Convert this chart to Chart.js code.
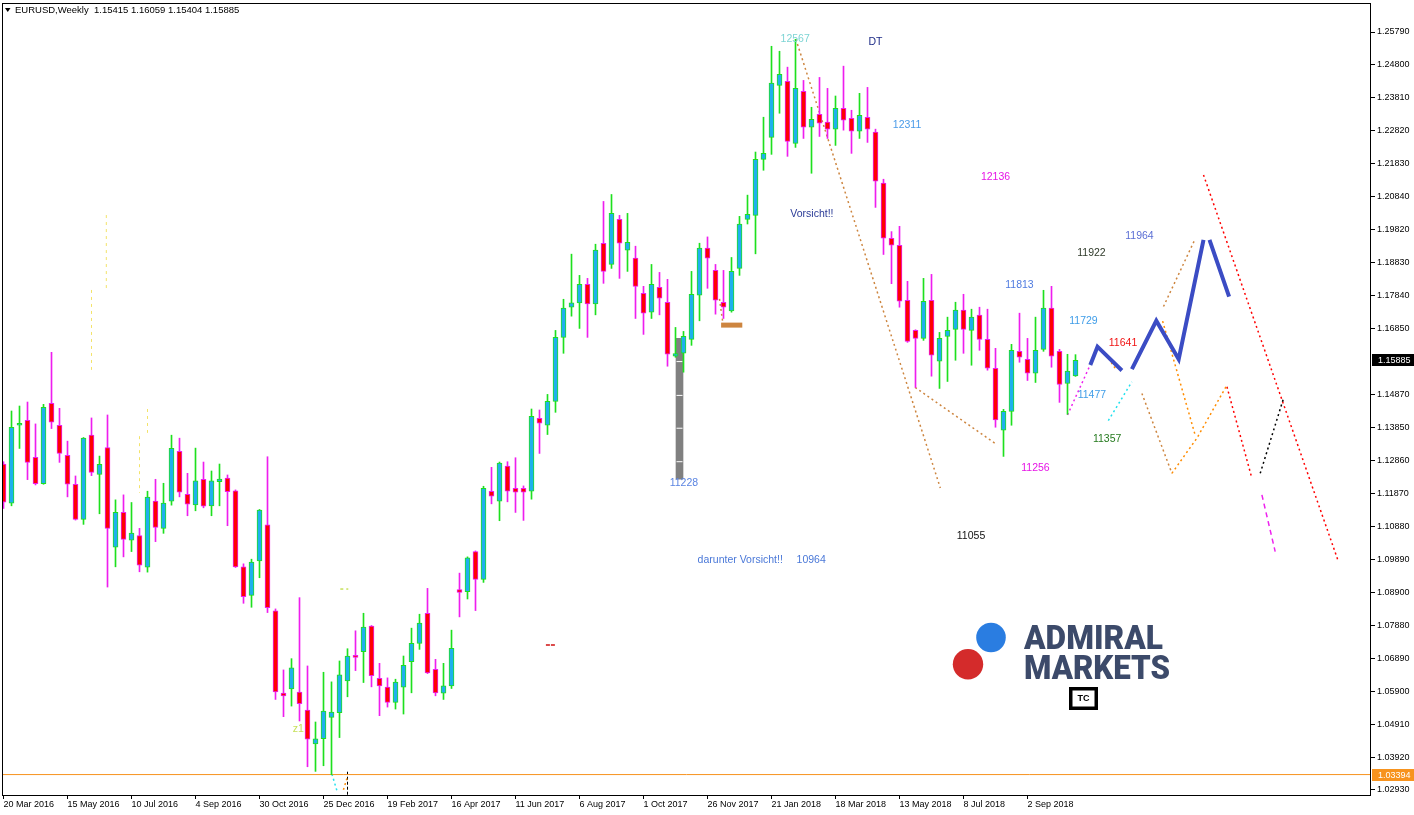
<!DOCTYPE html>
<html>
<head>
<meta charset="utf-8">
<title>EURUSD, Weekly</title>
<script src="https://cdn.jsdelivr.net/npm/chart.js@4.4.1/dist/chart.umd.min.js"></script>
<style>
  html, body { margin: 0; padding: 0; background: #fff; }
  #wrap { position: relative; width: 1414px; height: 815px; }
</style>
</head>
<body>
<div id="wrap"><canvas id="chart" width="1414" height="815"></canvas></div>
<script>
// ===== DATA (weekly candles, week 0 = 20 Mar 2016) =====
const opens = [
  1.1276, 1.1158, 1.1393, 1.1408, 1.1296, 1.1217, 1.1459, 1.1393, 1.1302, 1.1215,
  1.1109, 1.1363, 1.1245, 1.1326, 1.1025, 1.1130, 1.1046, 1.1060, 1.0965, 1.1164,
  1.1082, 1.1164, 1.1314, 1.1185, 1.1153, 1.1230, 1.1150, 1.1223, 1.1234, 1.1195,
  1.0966, 1.0880, 1.0984, 1.1093, 1.0833, 1.0585, 1.0598, 1.0588, 1.0534, 1.0432,
  1.0448, 1.0512, 1.0526, 1.0622, 1.0697, 1.0710, 1.0787, 1.0630, 1.0603, 1.0557,
  1.0603, 1.0680, 1.0735, 1.0826, 1.0657, 1.0585, 1.0607, 1.0897, 1.0891, 1.1012,
  1.0928, 1.1194, 1.1164, 1.1270, 1.1203, 1.1203, 1.1194, 1.1414, 1.1393, 1.1465,
  1.1658, 1.1749, 1.1762, 1.1818, 1.1759, 1.1942, 1.1878, 1.2014, 1.1921, 1.1897,
  1.1791, 1.1734, 1.1809, 1.1764, 1.1601, 1.1610, 1.1652, 1.1785, 1.1927, 1.1860,
  1.1764, 1.1738, 1.1866, 1.2014, 1.2026, 1.2195, 1.2261, 1.2418, 1.2430, 1.2243,
  1.2400, 1.2292, 1.2331, 1.2307, 1.2286, 1.2349, 1.2319, 1.2280, 1.2322, 1.2277,
  1.2123, 1.1957, 1.1936, 1.1770, 1.1679, 1.1655, 1.1770, 1.1586, 1.1661, 1.1682,
  1.1740, 1.1679, 1.1725, 1.1652, 1.1565, 1.1378, 1.1435, 1.1616, 1.1592, 1.1550,
  1.1622, 1.1746, 1.1616, 1.1519, 1.15415
];
const highs = [
  1.1283, 1.1436, 1.1451, 1.1463, 1.1397, 1.1456, 1.1613, 1.1444, 1.1345, 1.1240,
  1.1356, 1.1415, 1.1300, 1.1424, 1.1168, 1.1183, 1.1160, 1.1082, 1.1194, 1.1230,
  1.1218, 1.1363, 1.1354, 1.1248, 1.1324, 1.1282, 1.1255, 1.1276, 1.1243, 1.1198,
  1.0975, 1.0989, 1.1139, 1.1298, 1.0839, 1.0655, 1.0689, 1.0873, 1.0667, 1.0498,
  1.0648, 1.0619, 1.0682, 1.0719, 1.0773, 1.0826, 1.0789, 1.0675, 1.0631, 1.0627,
  1.0697, 1.0781, 1.0823, 1.0901, 1.0687, 1.0675, 1.0775, 1.0947, 1.0996, 1.1014,
  1.1209, 1.1266, 1.1282, 1.1283, 1.1295, 1.1210, 1.1442, 1.1439, 1.1486, 1.1679,
  1.1773, 1.1909, 1.1845, 1.1836, 1.1939, 1.2068, 1.2089, 1.2026, 1.2032, 1.1933,
  1.1812, 1.1878, 1.1854, 1.1833, 1.1688, 1.1676, 1.1857, 1.1942, 1.1961, 1.1878,
  1.1860, 1.1899, 1.2023, 1.2087, 1.2217, 1.2322, 1.2536, 1.2521, 1.2473, 1.2557,
  1.2433, 1.2352, 1.2442, 1.2409, 1.2386, 1.2476, 1.2343, 1.2394, 1.2412, 1.2286,
  1.2135, 1.1977, 1.1993, 1.1827, 1.1681, 1.1836, 1.1848, 1.1673, 1.1719, 1.1764,
  1.1788, 1.1743, 1.1749, 1.1743, 1.1625, 1.1441, 1.1637, 1.1731, 1.1655, 1.1719,
  1.1800, 1.1812, 1.1622, 1.1607, 1.16059
];
const lows = [
  1.1142, 1.1150, 1.1323, 1.1229, 1.1213, 1.1215, 1.1383, 1.1281, 1.1177, 1.1107,
  1.1094, 1.1241, 1.1126, 1.0905, 1.0966, 1.0996, 1.1012, 1.0951, 1.0950, 1.1042,
  1.1067, 1.1152, 1.1177, 1.1120, 1.1135, 1.1144, 1.1120, 1.1150, 1.1090, 1.0964,
  1.0856, 1.0844, 1.0933, 1.0828, 1.0566, 1.0514, 1.0546, 1.0501, 1.0363, 1.0349,
  1.0366, 1.0339, 1.0451, 1.0574, 1.0653, 1.0617, 1.0604, 1.0517, 1.0543, 1.0537,
  1.0522, 1.0586, 1.0717, 1.0644, 1.0577, 1.0566, 1.0599, 1.0815, 1.0869, 1.0834,
  1.0919, 1.1156, 1.1105, 1.1162, 1.1130, 1.1106, 1.1170, 1.1308, 1.1365, 1.1432,
  1.1610, 1.1722, 1.1685, 1.1658, 1.1726, 1.1821, 1.1866, 1.1836, 1.1857, 1.1715,
  1.1667, 1.1715, 1.1726, 1.1571, 1.1598, 1.1553, 1.1634, 1.1708, 1.1806, 1.1728,
  1.1715, 1.1734, 1.1845, 1.2000, 1.1910, 1.2162, 1.2210, 1.2334, 1.2204, 1.2231,
  1.2258, 1.2153, 1.2264, 1.2258, 1.2237, 1.2283, 1.2213, 1.2258, 1.2246, 1.2050,
  1.1908, 1.1820, 1.1749, 1.1643, 1.1507, 1.1649, 1.1541, 1.1504, 1.1525, 1.1589,
  1.1610, 1.1574, 1.1619, 1.1559, 1.1387, 1.1299, 1.1393, 1.1583, 1.1528, 1.1522,
  1.1616, 1.1568, 1.1462, 1.1426, 1.15404
];
const closes = [
  1.1161, 1.1387, 1.1399, 1.1281, 1.1217, 1.1447, 1.1402, 1.1308, 1.1215, 1.1109,
  1.1354, 1.1251, 1.1275, 1.1082, 1.1130, 1.1049, 1.1068, 1.0971, 1.1176, 1.1085,
  1.1158, 1.1323, 1.1191, 1.1155, 1.1225, 1.1149, 1.1225, 1.1231, 1.1193, 1.0966,
  1.0876, 1.0980, 1.1137, 1.0843, 1.0589, 1.0577, 1.0661, 1.0553, 1.0446, 1.0447,
  1.0531, 1.0528, 1.0640, 1.0697, 1.0693, 1.0784, 1.0638, 1.0607, 1.0557, 1.0618,
  1.0669, 1.0735, 1.0796, 1.0646, 1.0586, 1.0607, 1.0720, 1.0889, 1.0993, 1.0928,
  1.1203, 1.1179, 1.1279, 1.1194, 1.1191, 1.1191, 1.1420, 1.1399, 1.1465, 1.1658,
  1.1746, 1.1762, 1.1818, 1.1759, 1.1921, 1.1857, 1.2032, 1.1942, 1.1945, 1.1812,
  1.1731, 1.1818, 1.1776, 1.1607, 1.1609, 1.1661, 1.1788, 1.1927, 1.1897, 1.1770,
  1.1749, 1.1857, 1.2000, 1.2029, 1.2195, 1.2213, 1.2425, 1.2451, 1.2249, 1.2409,
  1.2292, 1.2316, 1.2304, 1.2286, 1.2349, 1.2313, 1.2280, 1.2328, 1.2286, 1.2129,
  1.1957, 1.1936, 1.1767, 1.1646, 1.1655, 1.1767, 1.1604, 1.1655, 1.1679, 1.1740,
  1.1682, 1.1719, 1.1652, 1.1565, 1.1409, 1.1435, 1.1619, 1.1598, 1.1550, 1.1619,
  1.1746, 1.1601, 1.1516, 1.1556, 1.15885
];

const dateTickIdx = [0, 8, 16, 24, 32, 40, 48, 56, 64, 72, 80, 88, 96, 104, 112, 120, 128];
const dateLabels = ['20 Mar 2016', '15 May 2016', '10 Jul 2016', '4 Sep 2016', '30 Oct 2016',
  '25 Dec 2016', '19 Feb 2017', '16 Apr 2017', '11 Jun 2017', '6 Aug 2017', '1 Oct 2017',
  '26 Nov 2017', '21 Jan 2018', '18 Mar 2018', '13 May 2018', '8 Jul 2018', '2 Sep 2018'];
const priceTicks = [1.2579, 1.2480, 1.2381, 1.2282, 1.2183, 1.2084, 1.1982, 1.1883, 1.1784,
  1.1685, 1.1487, 1.1385, 1.1286, 1.1187, 1.1088, 1.0989, 1.0890, 1.0788, 1.0689, 1.0590,
  1.0491, 1.0392, 1.0293];
const lastPrice = 1.15885;
const lowLevel = 1.03394;

// drawn objects: [week index, price]
const orangeFall2018 = [[99.05, 1.2557], [117.1, 1.1204]];
const orangeLow2018 = [[113.96, 1.1507], [123.96, 1.1338]];
const orangeNov2017 = [[89.5, 1.1774], [89.9, 1.1705]];
const brownBar = [[89.7, 1.1695], [92.35, 1.1695]];
const zigzagX = [135.85, 136.75, 139.8, 140.4, 141.05, 144.1, 146.9, 150.0, 150.4, 150.75, 153.2];
const zigzagY = [1.1575, 1.1630, 1.1558, null, 1.1562, 1.1708, 1.1592, 1.1952, null, 1.1952, 1.1781];
const magentaUp = [[133.0, 1.1424], [135.84, 1.1575]];
const cyanUp = [[138.1, 1.1407], [141.05, 1.1524]];
const orangeStep = [[138.1, 1.1595], [138.96, 1.1565]];
const brownRise = [[145.0, 1.1751], [148.96, 1.1955]];
const orangeDrop = [[144.89, 1.1707], [148.96, 1.1363]];
const brownFall = [[142.3, 1.1489], [146.05, 1.1248]];
const orangeRise = [[146.05, 1.1248], [149.2, 1.1355], [152.93, 1.1514]];
const redShort = [[152.93, 1.1509], [156.05, 1.1233]];
const blackUp = [[157.09, 1.1248], [160.0, 1.1474]];
const redLong = [[150.0, 1.2148], [166.875, 1.0981]];
const magentaDash = [[157.3, 1.1183], [158.96, 1.1012]];
const cyanLow = [[41.05, 1.0341], [41.75, 1.0285]];
const orangeLowTick = [[42.93, 1.0328], [42.38, 1.0285]];
const blackLowTick = [[43.0, 1.0348], [43.0, 1.0270]];
const limeDash = [[42.1, 1.0899], [43.1, 1.0899]];
const redDash = [[67.8, 1.0730], [68.95, 1.0730]];
const yellowA = [[11.0, 1.1801], [11.0, 1.1560]];
const yellowB = [[12.85, 1.2027], [12.85, 1.1801]];
const yellowC = [[17.0, 1.1360], [17.0, 1.1189]];
const yellowD = [[18.0, 1.1442], [18.0, 1.1370]];
const greyBar = [84.5, 1.1230, 1.1655];
const greyMarks = [1.1585, 1.1483, 1.1384, 1.1283];

const noteLabels = ['12567', 'DT', 'Vorsicht!!', '12311', '12136', '11813', '11256', '11922',
  '11964', '11729', '11641', '11477', '11357', '11228', '11055', 'darunter Vorsicht!!', '10964', 'z1'];
const noteX = [98.96, 109.0, 101.05, 112.94, 124.0, 127.0, 129.0, 136.0, 142.0, 135.0, 139.94,
  136.05, 137.96, 85.05, 120.94, 92.09, 100.96, 36.84];
const notePrice = [1.2558, 1.2550, 1.2031, 1.2298, 1.2140, 1.1817, 1.1263, 1.1913, 1.1963, 1.1707,
  1.1640, 1.1484, 1.1352, 1.1218, 1.1059, 1.0986, 1.0986, 1.0477];
const noteColors = ['#7dd4d4', '#1c2a86', '#2a3a96', '#4a9be8', '#e614e6', '#4f7be0', '#e614e6',
  '#2f3a2a', '#5a6ed4', '#3f9de8', '#f01414', '#3f9de8', '#257a1e', '#5a84e2', '#111111',
  '#4a78d8', '#4a78d8', '#c6e05a'];

// ===== STYLE =====
const FONT = '"Liberation Sans", Arial, sans-serif';
const upBody = '#1eb0ee', upEdge = '#1ee01e', downBody = '#ff0000', downEdge = '#ee1eee';

const idx = opens.map((_, i) => i);
const isUp = idx.map(i => closes[i] >= opens[i]);

function pts(arr) { return arr.map(([x, y]) => ({ x, y })); }
function dotted(arr, color, dash, width) {
  return {
    type: 'line', data: pts(arr), borderColor: color, borderWidth: width || 1.5,
    borderDash: dash || [2, 3], pointRadius: 0, fill: false, tension: 0, order: 10
  };
}

// ===== OVERLAY (texts, logo, frame, price boxes) =====
const overlay = {
  id: 'overlay',
  afterDatasetsDraw(chart) {
    const { ctx, scales: { x, y } } = chart;
    ctx.save();
    ctx.font = '10.5px ' + FONT;
    ctx.textAlign = 'center';
    ctx.textBaseline = 'middle';
    noteLabels.forEach((t, i) => {
      ctx.fillStyle = noteColors[i];
      ctx.fillText(t, x.getPixelForValue(noteX[i]), y.getPixelForValue(notePrice[i]));
    });

    // header
    ctx.fillStyle = '#000';
    ctx.beginPath();
    ctx.moveTo(5, 8); ctx.lineTo(10.5, 8); ctx.lineTo(7.75, 12); ctx.closePath(); ctx.fill();
    ctx.textAlign = 'left';
    ctx.font = '9.5px ' + FONT;
    ctx.fillText('EURUSD,Weekly  1.15415 1.16059 1.15404 1.15885', 15, 10.5);

    // logo
    ctx.fillStyle = '#2a7de1';
    ctx.beginPath(); ctx.arc(991, 637.5, 14.8, 0, Math.PI * 2); ctx.fill();
    ctx.fillStyle = '#d42b2b';
    ctx.beginPath(); ctx.arc(968, 664.3, 15.2, 0, Math.PI * 2); ctx.fill();
    ctx.fillStyle = '#3c4a6a';
    ctx.font = '900 33px Roboto, ' + FONT;
    ctx.textBaseline = 'alphabetic';
    ctx.fillText('ADMIRAL', 1024, 648.5, 139);
    ctx.fillText('MARKETS', 1024, 678.5, 146);

    // TC box
    ctx.fillStyle = '#000';
    ctx.fillRect(1069, 687, 29, 23);
    ctx.fillStyle = '#fff';
    ctx.fillRect(1072.5, 690.5, 22, 16);
    ctx.fillStyle = '#000';
    ctx.font = 'bold 9px ' + FONT;
    ctx.textAlign = 'center';
    ctx.textBaseline = 'middle';
    ctx.fillText('TC', 1083.5, 698.8);
    ctx.restore();
  },
  afterDraw(chart) {
    const { ctx, chartArea: a, scales: { y } } = chart;
    ctx.save();
    ctx.strokeStyle = '#000';
    ctx.lineWidth = 1;
    ctx.strokeRect(a.left + 0.5, a.top + 0.5, a.right - a.left - 1, a.bottom - a.top);
    ctx.font = '9px ' + FONT;
    ctx.textAlign = 'left';
    ctx.textBaseline = 'middle';
    [[lastPrice, '#000000'], [lowLevel, '#f7931e']].forEach(([v, bg]) => {
      const py = Math.round(y.getPixelForValue(v));
      ctx.fillStyle = bg;
      ctx.fillRect(a.right + 1, py - 6, 44, 12);
      ctx.fillStyle = '#fff';
      ctx.fillText(v.toFixed(5), a.right + 7, py + 0.5);
    });
    ctx.restore();
  }
};

// ===== CHART =====
new Chart(document.getElementById('chart'), {
  type: 'bar',
  data: {
    datasets: [
      {
        label: 'wicks', data: idx.map(i => ({ x: i, y: [lows[i], highs[i]] })),
        backgroundColor: idx.map(i => isUp[i] ? upEdge : downEdge),
        borderWidth: 0, barThickness: 1, grouped: false, order: 2
      },
      {
        label: 'bodies', data: idx.map(i => ({ x: i, y: [opens[i], closes[i]] })),
        backgroundColor: idx.map(i => isUp[i] ? upBody : downBody),
        borderColor: idx.map(i => isUp[i] ? upEdge : downEdge),
        borderWidth: 1, borderSkipped: false, barThickness: 5, minBarLength: 2,
        grouped: false, order: 1
      },
      {
        label: 'grey', data: [{ x: greyBar[0], y: [greyBar[1], greyBar[2]] }],
        backgroundColor: '#808080', borderWidth: 0, barThickness: 7, grouped: false, order: 4
      },
      {
        type: 'scatter', data: greyMarks.map(v => ({ x: greyBar[0], y: v })),
        pointStyle: 'line', pointRadius: 3, borderColor: '#ffffff', borderWidth: 1, order: 3
      },
      {
        type: 'line', data: zigzagX.map((v, i) => ({ x: v, y: zigzagY[i] })),
        borderColor: '#3b4cc4', borderWidth: 4, pointRadius: 0, spanGaps: false,
        tension: 0, fill: false, order: 6
      },
      dotted([[-1, lowLevel], [172, lowLevel]], '#f7931e', [], 1),
      dotted(brownBar, '#cd853f', [], 5),
      dotted(orangeFall2018, '#cd853f'),
      dotted(orangeLow2018, '#cd853f'),
      dotted(orangeNov2017, '#cd853f'),
      dotted(magentaUp, '#ee22ee'),
      dotted(cyanUp, '#22e0ee'),
      dotted(orangeStep, '#ff8c00'),
      dotted(brownRise, '#cd853f'),
      dotted(orangeDrop, '#ff8c00'),
      dotted(brownFall, '#cd853f'),
      dotted(orangeRise, '#ff8c00'),
      dotted(redShort, '#ff0000'),
      dotted(blackUp, '#000000'),
      dotted(redLong, '#ff0000'),
      dotted(magentaDash, '#ee22ee', [5, 4]),
      dotted(cyanLow, '#22e0ee'),
      dotted(orangeLowTick, '#ff8c00'),
      dotted(blackLowTick, '#000000', [3, 2], 1),
      dotted(limeDash, '#c6e05a', [3, 3]),
      dotted(redDash, '#d01010', [4, 1]),
      dotted(yellowA, '#f3e36a', [3, 4], 1),
      dotted(yellowB, '#f3e36a', [3, 4], 1),
      dotted(yellowC, '#f3e36a', [3, 4], 1),
      dotted(yellowD, '#f3e36a', [3, 4], 1)
    ]
  },
  options: {
    responsive: false,
    animation: false,
    devicePixelRatio: 1,
    layout: { autoPadding: false, padding: { left: 2, top: 3, right: 0, bottom: 0 } },
    plugins: { legend: { display: false }, tooltip: { enabled: false } },
    scales: {
      x: {
        type: 'linear', min: -0.1875, max: 170.9375, offset: false,
        afterBuildTicks: s => { s.ticks = dateTickIdx.map(v => ({ value: v })); },
        afterFit: s => { s.height = 20; s.paddingLeft = 0; s.paddingRight = 0; },
        ticks: {
          callback: (v, i) => dateLabels[i], align: 'start', maxRotation: 0, autoSkip: false,
          color: '#000', padding: 0, font: { family: FONT, size: 9 }
        },
        grid: { drawOnChartArea: false, tickLength: 4, color: '#000', offset: false },
        border: { display: false }
      },
      y: {
        type: 'linear', position: 'right', min: 1.02778, max: 1.26665,
        afterBuildTicks: s => { s.ticks = priceTicks.map(v => ({ value: v })); },
        afterFit: s => { s.width = 43; s.paddingTop = 0; s.paddingBottom = 0; },
        ticks: {
          callback: v => v.toFixed(5), color: '#000', padding: 2, autoSkip: false,
          font: { family: FONT, size: 9 }
        },
        grid: { drawOnChartArea: false, tickLength: 4, color: '#000' },
        border: { display: false }
      }
    }
  },
  plugins: [overlay]
});
</script>
</body>
</html>
